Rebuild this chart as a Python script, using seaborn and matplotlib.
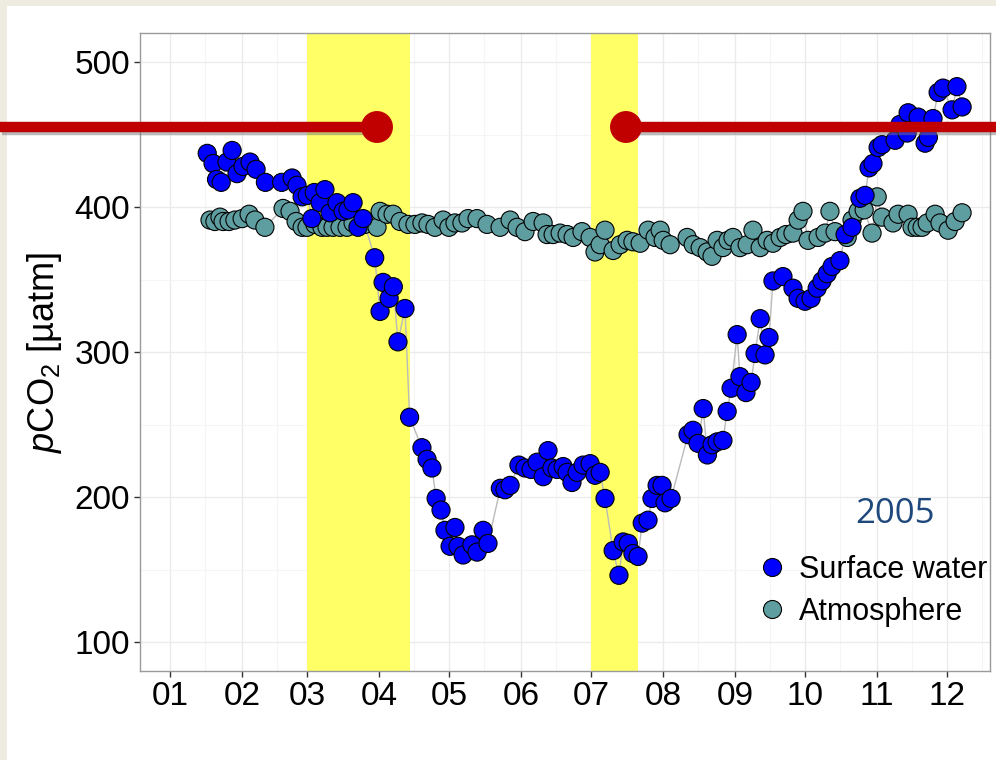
import numpy as np
import pandas as pd
import seaborn as sns
import matplotlib
matplotlib.use("Agg")
from matplotlib import pyplot as plt
import matplotlib.dates as mdates
from matplotlib.lines import Line2D
from matplotlib.patches import Rectangle
import matplotlib.patheffects as pe

# dias del año (1 = 1 de enero de 2005) y pCO2
sw_day = [17, 19.5, 21, 23, 25.5, 27.7, 29.8, 32.4, 35.4, 38,
          42, 49, 53.5, 55.6, 57.8, 60, 62, 63, 65.5, 67.6,
          69.8, 72.8, 75.4, 77.5, 79.7, 81.8, 84, 89, 91.3, 92.6,
          95.2, 97, 99, 102, 104, 109.3, 111.5, 113.6, 115.4, 117.5,
          119.2, 121.4, 123.5, 124.8, 127, 130.8, 133, 135.6, 137.7, 143,
          145, 147.2, 151, 153.6, 156.2, 158.8, 161.4, 163.5, 165.2, 167.4,
          170, 171.7, 173.8, 176, 178.6, 181.6, 183.7, 185.9, 188, 191.5,
          194, 195.8, 198, 200, 202.2, 204, 206.5, 208.2, 210.4, 212.5,
          213.8, 216.4, 223.7, 225.8, 228, 230.2, 232, 234, 236.2, 238.7,
          240.5, 242.2, 244.8, 246, 248.6, 250.8, 252.5, 254.7, 256.8, 258.5,
          260.2, 264.5, 268.8, 271, 274, 276.6, 279.2, 281.3, 283.5, 285.6,
          289, 291.2, 294.2, 297.6, 299.8, 301.5, 303.2, 305.4, 307.1, 312.7,
          314.8, 317.9, 318.3, 322.6, 325.6, 327, 329, 331.2, 333.3, 337.2,
          339.3, 341.5]
sw_pco2 = [437, 430, 419, 417, 431, 439, 423, 428, 431, 426,
           417, 417, 420, 415, 407, 408, 392, 410, 403, 412,
           396, 403, 397, 398, 403, 386, 392, 365, 328, 348,
           337, 345, 307, 330, 255, 234, 226, 220, 199, 191,
           177, 166, 179, 166, 160, 167, 162, 177, 168, 206,
           205, 208, 222, 220, 219, 224, 214, 232, 220, 219,
           221, 217, 210, 217, 222, 223, 215, 217, 199, 163,
           146, 169, 168, 161, 159, 182, 184, 199, 208, 208,
           196, 199, 243, 246, 237, 261, 229, 236, 238, 239,
           259, 275, 312, 283, 272, 279, 299, 323, 298, 310,
           349, 352, 344, 337, 335, 337, 344, 349, 354, 359,
           363, 381, 386, 406, 408, 427, 430, 441, 443, 446,
           457, 451, 465, 462, 444, 448, 461, 479, 482, 467,
           483, 469]

atm_day = [18.2, 20.3, 22.5, 23.8, 26.4, 28.9, 32, 35, 37.5, 41.8,
           49.6, 52.6, 55.2, 57.8, 59.9, 63.3, 66.3, 68.5, 71.1, 74.1,
           77.1, 79.7, 84.8, 90, 91.3, 94.3, 96.9, 99.9, 103.3, 106.3,
           109.3, 111.9, 114.9, 118.4, 120.9, 123.5, 126.5, 129.1, 133, 137.3,
           142.9, 147.2, 150.2, 153.6, 157.1, 161.4, 163.1, 165.7, 168.7, 171.7,
           174.3, 178.1, 181.6, 183.7, 185.9, 188, 191.5, 194.5, 197.5, 200,
           203.1, 206.5, 209.5, 211.7, 213, 216, 223.3, 225.9, 228.9, 231.9,
           234, 236.2, 238.7, 240.9, 243, 246, 249.1, 251.6, 254.7, 257.7,
           260.2, 263.3, 265.8, 268.8, 271, 273.1, 275.3, 279.6, 282.6, 284.7,
           286.9, 292.1, 294.2, 296.8, 299.4, 302.8, 305, 307.1, 311.8, 314,
           318.3, 320, 322.2, 324.3, 326.5, 329.9, 332, 335.5, 338.5, 341.5]
atm_pco2 = [391, 390, 393, 390, 390, 391, 392, 395, 391, 386,
            399, 397, 390, 386, 386, 388, 386, 386, 386, 386,
            386, 389, 388, 386, 397, 395, 395, 390, 388, 388,
            389, 388, 386, 391, 386, 389, 389, 392, 392, 388,
            386, 391, 386, 383, 390, 389, 381, 381, 382, 381,
            379, 383, 379, 369, 374, 384, 370, 374, 377, 376,
            375, 384, 379, 384, 377, 374, 379, 374, 372, 369,
            366, 377, 372, 377, 379, 372, 374, 384, 372, 377,
            375, 379, 381, 382, 391, 397, 377, 379, 382, 397,
            383, 379, 391, 397, 398, 382, 407, 393, 389, 395,
            395, 386, 386, 386, 389, 395, 389, 384, 390, 396]

series_names = ["Surface water", "Atmosphere"]
series_colors = ["#0000FF", "#5F9EA0"]
# periodos resaltados en amarillo
bands = [("2005-03-01", "2005-04-14"), ("2005-07-01", "2005-07-21")]

start = pd.Timestamp("2005-01-01")
def to_date(days):
    return start + pd.to_timedelta(np.array(days) - 1, unit="D")

# atmosfera primero para que el agua superficial quede encima
df = pd.concat([
    pd.DataFrame({"date": to_date(atm_day), "pco2": atm_pco2, "series": series_names[1]}),
    pd.DataFrame({"date": to_date(sw_day), "pco2": sw_pco2, "series": series_names[0]}),
], ignore_index=True)

sns.set_style("white")
plt.rcParams["font.family"] = ["Liberation Sans", "DejaVu Sans"]
plt.rcParams["mathtext.fontset"] = "custom"
plt.rcParams["mathtext.rm"] = "Liberation Sans"
plt.rcParams["mathtext.it"] = "Liberation Sans:italic"

fig = plt.figure(figsize=(9.96, 7.6), dpi=100, facecolor="#EEECE1")
fig.patches.append(Rectangle((7 / 996, 0), 1, 1 - 6 / 760, transform=fig.transFigure,
                             facecolor="white", edgecolor="none", zorder=-10))
ax = fig.add_axes([140 / 996, 1 - 671 / 760, 850 / 996, 638 / 760])
ax.set_zorder(1)

for b0, b1 in bands:
    ax.axvspan(pd.Timestamp(b0), pd.Timestamp(b1), color="#FFFF66", lw=0, zorder=1)

sns.lineplot(data=df, x="date", y="pco2", units="series", estimator=None,
             color="#BBBBBB", lw=1.0, ax=ax, zorder=2, legend=False)
sns.scatterplot(data=df, x="date", y="pco2", hue="series",
                palette=dict(zip(series_names, series_colors)),
                hue_order=series_names, s=170, edgecolor="black", linewidth=0.8,
                ax=ax, zorder=3)

ax.set_xlim(start - pd.Timedelta(days=12.9), start + pd.Timedelta(days=352.5))
ax.set_ylim(80, 520)
ax.set_yticks([100, 200, 300, 400, 500])
ax.set_yticks([150, 250, 350, 450], minor=True)
ax.xaxis.set_major_locator(mdates.MonthLocator())
ax.xaxis.set_major_formatter(mdates.DateFormatter("%m"))
ax.xaxis.set_minor_locator(mdates.MonthLocator(bymonthday=16))
ax.grid(which="major", color="#EBEBEB", lw=1.0)
ax.grid(which="minor", color="#F5F5F5", lw=0.8)
ax.set_axisbelow(True)
ax.tick_params(which="major", direction="out", length=4, width=1, color="#333333",
               labelsize=24, labelcolor="black", bottom=True, left=True, pad=3)
ax.tick_params(which="minor", length=0)
for sp in ax.spines.values():
    sp.set_color("#9A9A9A")
    sp.set_linewidth(1.0)
ax.set_xlabel("")
ax.set_ylabel(r"$p$CO$_2$ [µatm]", fontsize=26, color="black", labelpad=8)

handles, labels = ax.get_legend_handles_labels()
for h in handles:
    h.set_markeredgecolor("black")
    h.set_markersize(13)
leg = ax.legend(handles, labels, loc="upper left", bbox_to_anchor=(758 / 996, 1 - 555 / 760),
                bbox_transform=fig.transFigure, frameon=False, fontsize=22,
                handlelength=0.9, handletextpad=0.45, labelspacing=0.38,
                borderpad=0, borderaxespad=0)
for t in leg.get_texts():
    t.set_color("black")

fig.text(895 / 996, 1 - 514 / 760, "2005", ha="center", va="center",
         fontsize=25, color="#1F497D", family="Open Sans", zorder=5)

# lineas rojas de la diapositiva
y_red = 1 - 127 / 760
for x0, x1, xc in [(0, 377 / 996, 377 / 996), (626 / 996, 1, 626 / 996)]:
    ln = Line2D([x0, x1], [y_red, y_red], transform=fig.transFigure, color="#C00000",
                lw=7.5, solid_capstyle="butt", zorder=10)
    ln.set_path_effects([pe.SimpleLineShadow(offset=(1.5, -2.5), shadow_color="#777777", alpha=0.5), pe.Normal()])
    fig.add_artist(ln)
    dot = Line2D([xc], [y_red], transform=fig.transFigure, marker="o", markersize=23,
                 color="#C00000", markeredgewidth=0, zorder=11)
    dot.set_path_effects([pe.SimpleLineShadow(offset=(1.5, -2.5), shadow_color="#777777", alpha=0.5), pe.Normal()])
    fig.add_artist(dot)

fig.savefig("out.png", dpi=100, facecolor=fig.get_facecolor())
